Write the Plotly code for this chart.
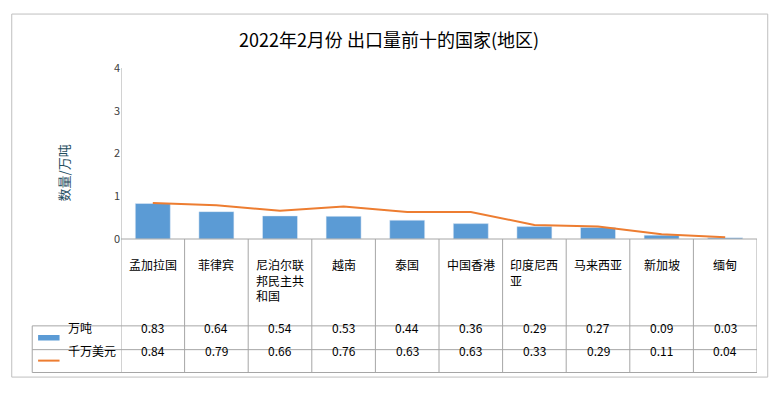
import plotly.graph_objects as go

categories = ["孟加拉国", "菲律宾", "尼泊尔联<br>邦民主共<br>和国", "越南", "泰国",
              "中国香港", "印度尼西<br>亚", "马来西亚", "新加坡", "缅甸"]
tons = [0.83, 0.64, 0.54, 0.53, 0.44, 0.36, 0.29, 0.27, 0.09, 0.03]
usd = [0.84, 0.79, 0.66, 0.76, 0.63, 0.63, 0.33, 0.29, 0.11, 0.04]
yticks = [0, 1, 2, 3, 4]

FONT = "Noto Sans CJK SC"
W, H = 778, 400
L, R, T, B = 113, 13, 60, 153
pw, ph = W - L - R, H - T - B


def px(xp):
    return (xp - L) / pw


def py(yp):
    return (H - B - yp) / ph


xs = list(range(len(categories)))
fig = go.Figure()
fig.add_trace(go.Bar(x=xs, y=tons, marker_color="#5B9BD5", width=0.6, name="万吨"))
fig.add_trace(go.Scatter(x=xs, y=usd, mode="lines", line=dict(color="#ED7D31", width=2),
                         name="千万美元"))

shapes = []
line = dict(color="#A6A6A6", width=1)
# outer border
shapes.append(dict(type="rect", xref="paper", yref="paper", x0=px(1), x1=px(776),
                   y0=py(398), y1=py(1), line=dict(color="#BFBFBF", width=1)))
# horizontal table lines
for yp in [247, 342, 368, 393]:
    x0 = 22 if yp != 247 else L
    shapes.append(dict(type="line", xref="paper", yref="paper", x0=px(x0), x1=1,
                       y0=py(yp), y1=py(yp), line=line))
shapes.append(dict(type="line", xref="paper", yref="paper", x0=px(22), x1=px(22),
                   y0=py(342), y1=py(393), line=line))
for i in range(len(categories) + 1):
    shapes.append(dict(type="line", xref="x", yref="paper", x0=i - 0.5, x1=i - 0.5,
                       y0=py(247) if i else py(60), y1=py(393), line=line))
# legend keys
shapes.append(dict(type="rect", xref="paper", yref="paper", x0=px(28), x1=px(50),
                   y0=py(358), y1=py(352), fillcolor="#5B9BD5", line_width=0))
shapes.append(dict(type="line", xref="paper", yref="paper", x0=px(28), x1=px(50),
                   y0=py(380), y1=py(380), line=dict(color="#ED7D31", width=2)))

ann = []
tf = dict(family=FONT, size=12, color="#000000")
for i, c in enumerate(categories):
    ann.append(dict(x=i, y=py(263), xref="x", yref="paper", text=c, showarrow=False,
                    yanchor="top", xanchor="center", font=tf, align="left"))
    ann.append(dict(x=i, y=py(355), xref="x", yref="paper", text=f"{tons[i]:.2f}",
                    showarrow=False, font=tf))
    ann.append(dict(x=i, y=py(380), xref="x", yref="paper", text=f"{usd[i]:.2f}",
                    showarrow=False, font=tf))
ann.append(dict(x=px(57), y=py(355), xref="paper", yref="paper", text="万吨",
                showarrow=False, xanchor="left", font=tf))
ann.append(dict(x=px(57), y=py(380), xref="paper", yref="paper", text="千万美元",
                showarrow=False, xanchor="left", font=tf))
ann.append(dict(x=px(42), y=py(175), xref="paper", yref="paper", text="数量/万吨",
                showarrow=False, textangle=-90, font=dict(family=FONT, size=13, color="#1F4E5F")))

fig.update_layout(
    autosize=True, margin=dict(l=L, r=R, t=T, b=B),
    paper_bgcolor="white", plot_bgcolor="white", showlegend=False,
    title=dict(text="2022年2月份 出口量前十的国家(地区)", x=0.5, y=0.93, xanchor="center",
               font=dict(family=FONT, size=18, color="#000000")),
    xaxis=dict(range=[-0.5, len(categories) - 0.5], showticklabels=False, showgrid=False,
               zeroline=False, showline=False, fixedrange=True),
    yaxis=dict(range=[0, 4], tickvals=yticks, showgrid=False, zeroline=False,
               showline=False, ticks="", ticklen=0, tickfont=dict(family=FONT, size=11, color="#404040"),
               fixedrange=True),
    shapes=shapes, annotations=ann,
)
fig.update_traces(width=0.55, selector=dict(type="bar"))
fig.write_html("out.html", default_width="100%", default_height="100%")
